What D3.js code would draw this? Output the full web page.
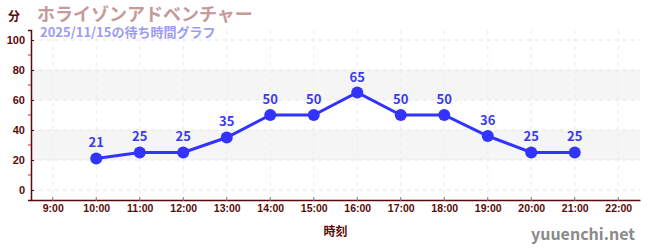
<!DOCTYPE html>
<html lang='ja'>
<head>
<meta charset='utf8'>
<title>待ち時間グラフ</title>
<script type="text/javascript" src="https://cdn.jsdelivr.net/npm/d3@7"></script>
<style>
  body { margin: 0; background: #fff; }
  svg { font-family: "Noto Sans CJK JP", "Noto Sans", sans-serif; display: block; }
</style>
</head>
<body>
<svg id='chart' width='650' height='250'></svg>
<script type="text/javascript">
    // wait times (minutes) by hour
    var hours = [10, 11, 12, 13, 14, 15, 16, 17, 18, 19, 20, 21];
    var waits = [21, 25, 25, 35, 50, 50, 65, 50, 50, 36, 25, 25];
    var xTicks = [9, 10, 11, 12, 13, 14, 15, 16, 17, 18, 19, 20, 21, 22];
    var yTicks = [0, 20, 40, 60, 80, 100];
    var yMinor = [10, 30, 50, 70, 90];
    var bands = [[20, 40], [60, 80]];

    var svg = d3.select('#chart');
    var dark = '#5a0a0a';

    var x = d3.scaleLinear().domain([8.5, 22.5]).range([31, 640]);
    var y = d3.scaleLinear().domain([-6.67, 106.67]).range([200, 30]);

    // shaded bands
    svg.selectAll('.band').data(bands).enter().append('rect')
        .attr('x', x(8.5)).attr('width', x(22.5) - x(8.5))
        .attr('y', function(d) { return y(d[1]); })
        .attr('height', function(d) { return y(d[0]) - y(d[1]); })
        .attr('fill', '#f5f5f5');

    // grid
    svg.selectAll('.hgrid').data(yTicks).enter().append('line')
        .attr('x1', x(8.5)).attr('x2', x(22.5))
        .attr('y1', function(d) { return y(d); }).attr('y2', function(d) { return y(d); })
        .attr('stroke', '#e4e4e4').attr('stroke-dasharray', '4,4');
    svg.selectAll('.vgrid').data(xTicks).enter().append('line')
        .attr('x1', function(d) { return x(d); }).attr('x2', function(d) { return x(d); })
        .attr('y1', y(106.67)).attr('y2', y(-6.67))
        .attr('stroke', '#ececec').attr('stroke-dasharray', '4,4');

    // y axis
    var yAxis = svg.append('g').attr('transform', 'translate(31,0)')
        .call(d3.axisLeft(y).tickValues(yTicks).tickSize(3).tickPadding(3));
    yAxis.select('.domain').attr('stroke', dark).attr('stroke-width', 1.5);
    yAxis.selectAll('.tick line').attr('stroke', dark).attr('x2', 3);
    yAxis.selectAll('.tick text').attr('fill', dark)
        .style('font-size', '11px').style('font-weight', 'bold');
    svg.selectAll('.ymin').data(yMinor).enter().append('line')
        .attr('x1', 28).attr('x2', 31)
        .attr('y1', function(d) { return y(d); }).attr('y2', function(d) { return y(d); })
        .attr('stroke', '#d02020');

    // x axis
    var xAxis = svg.append('g').attr('transform', 'translate(0,200)')
        .call(d3.axisBottom(x).tickValues(xTicks).tickSize(0).tickPadding(5)
            .tickFormat(function(d) { return d + ':00'; }));
    xAxis.select('.domain').attr('stroke', dark).attr('stroke-width', 1.5);
    xAxis.selectAll('.tick text').attr('fill', dark)
        .style('font-size', '10.5px').style('font-weight', 'bold');
    svg.selectAll('.xtick').data(xTicks).enter().append('line')
        .attr('x1', function(d) { return x(d); }).attr('x2', function(d) { return x(d); })
        .attr('y1', 197).attr('y2', 201)
        .attr('stroke', '#777');

    // series
    var line = d3.line()
        .x(function(d, i) { return x(hours[i]); })
        .y(function(d) { return y(d); });
    svg.append('path').datum(waits)
        .attr('d', line).attr('fill', 'none')
        .attr('stroke', '#3333ff').attr('stroke-width', 3);
    svg.selectAll('.dot').data(waits).enter().append('circle')
        .attr('cx', function(d, i) { return x(hours[i]); })
        .attr('cy', function(d) { return y(d); })
        .attr('r', 6).attr('fill', '#3333ff');
    svg.selectAll('.val').data(waits).enter().append('text')
        .attr('x', function(d, i) { return x(hours[i]); })
        .attr('y', function(d) { return y(d) - 11; })
        .attr('text-anchor', 'middle')
        .attr('fill', '#3a3aee')
        .style('font-size', '13px').style('font-weight', 'bold')
        .text(function(d) { return d; });

    // titles
    svg.append('text').attr('x', 8).attr('y', 21)
        .attr('fill', dark).style('font-size', '12px').style('font-weight', 'bold')
        .text('分');
    svg.append('text').attr('x', 37).attr('y', 21)
        .attr('fill', '#c49a9a').style('font-size', '18px').style('font-weight', 'bold')
        .text('ホライゾンアドベンチャー');
    svg.append('text').attr('x', 40).attr('y', 37)
        .attr('fill', '#9c9cf2').style('font-size', '13px').style('font-weight', 'bold')
        .text('2025/11/15の待ち時間グラフ');
    svg.append('text').attr('x', x(15.5)).attr('y', 236)
        .attr('text-anchor', 'middle')
        .attr('fill', dark).style('font-size', '12px').style('font-weight', 'bold')
        .text('時刻');
    svg.append('text').attr('x', 635).attr('y', 240)
        .attr('text-anchor', 'end')
        .attr('fill', '#8a8a8a').style('font-size', '16px').style('font-weight', 'bold')
        .text('yuuenchi.net');
</script>
</body>
</html>
